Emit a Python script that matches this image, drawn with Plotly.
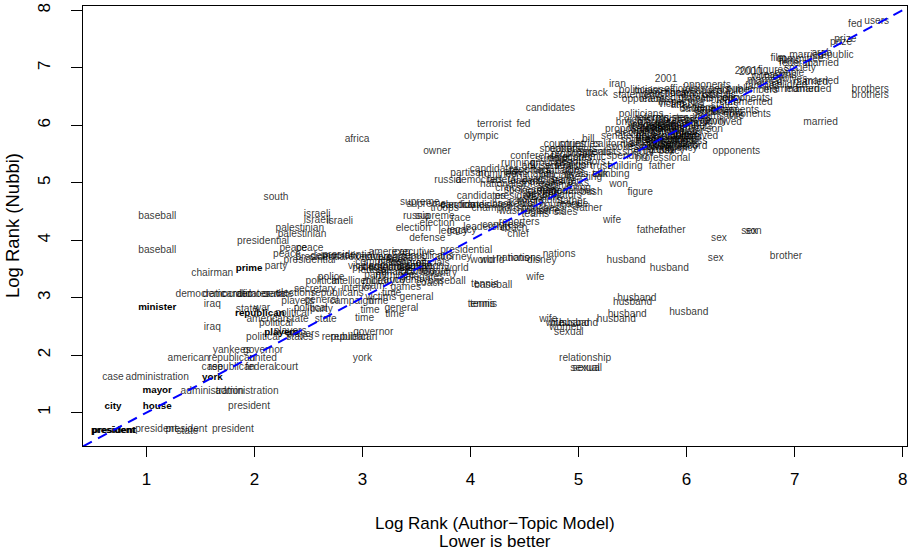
import plotly.graph_objects as go

# ---------------- data (log ranks) ----------------
# x = Log Rank (Author-Topic Model), y = Log Rank (Nubbi)

bold_words = ["president", "president", "city", "house", "mayor", "york",
              "minister", "prime", "republican", "players"]
bold_x = [0.69, 0.70, 0.69, 1.10, 1.10, 1.61, 1.10, 1.95, 2.05, 2.25]
bold_y = [0.69, 0.69, 1.10, 1.10, 1.39, 1.61, 2.82, 3.51, 2.72, 2.39]

low_words = ["president", "president", "state", "president", "president",
             "administration", "administration", "case", "administration",
             "case", "republican", "federal", "court", "american", "republican",
             "united", "yankees", "governor", "political", "states", "players",
             "players", "iraq", "political", "american", "state", "state",
             "state", "war", "political", "iraq", "players", "general",
             "political", "party", "democratic", "democratic", "candidates",
             "democratic", "senate", "elections", "secretary", "republicans",
             "chairman", "party", "peace", "presidential", "presidential",
             "democratic", "presidential", "peace", "peace", "presidential",
             "palestinian", "palestinian", "israeli", "israeli", "israeli",
             "south", "baseball", "baseball"]
low_x = [1.09, 1.37, 1.38, 1.80, 1.95,
         1.61, 1.93, 0.69, 1.10,
         1.61, 1.79, 2.06, 2.30, 1.39, 1.79,
         2.08, 1.79, 2.08, 2.08, 2.42, 2.45,
         2.33, 1.61, 2.20, 2.12, 2.40, 2.66,
         1.93, 2.07, 2.35, 1.61, 2.40, 2.62,
         2.52, 2.62, 1.50, 1.75, 1.92,
         2.06, 2.22, 2.38, 2.56, 2.77,
         1.61, 2.20, 2.30, 2.51, 2.62,
         2.75, 2.87, 2.36, 2.51, 2.08,
         2.44, 2.42, 2.58, 2.79, 2.58,
         2.20, 1.10, 1.10]
low_y = [0.70, 0.70, 0.67, 0.70, 1.10,
         1.37, 1.37, 1.61, 1.61,
         1.79, 1.79, 1.79, 1.79, 1.94, 1.94,
         1.94, 2.08, 2.08, 2.31, 2.31, 2.36,
         2.42, 2.48, 2.56, 2.63, 2.63, 2.63,
         2.80, 2.82, 2.73, 2.89, 2.94, 2.95,
         2.82, 2.80, 3.06, 3.06, 3.06,
         3.06, 3.06, 3.07, 3.15, 3.08,
         3.43, 3.55, 3.76, 3.65, 3.70,
         3.72, 3.74, 3.86, 3.86, 3.98,
         4.10, 4.21, 4.34, 4.32, 4.45,
         4.74, 4.41, 3.83]

diag_words = ["police", "political", "vice", "executive", "american",
              "executive", "committee", "leaders", "congress", "democrats",
              "leadership", "campaign", "federal", "senator", "election",
              "country", "world", "intelligence", "military", "country",
              "baseball", "interior", "time", "victims", "general", "campaign",
              "time", "general", "time", "time", "time", "governor",
              "republican", "republican", "york", "presidential", "attorney",
              "world", "world", "nations", "tennis", "baseball", "tennis",
              "tennis"]
diag_x = [2.71, 2.63, 2.95, 3.07, 3.25,
          3.47, 3.15, 3.30, 3.45, 3.22,
          3.38, 3.55, 3.10, 3.28, 3.50,
          3.72, 3.87, 2.95, 3.15, 3.45,
          3.78, 2.95, 3.27, 3.17, 3.50, 2.90,
          3.15, 3.36, 3.07, 3.02, 3.30, 3.10,
          2.84, 2.92, 3.00, 3.96, 3.84,
          4.11, 4.20, 4.39, 4.13, 4.21, 4.10,
          4.12]
diag_y = [3.36, 3.29, 3.55, 3.70, 3.79,
          3.79, 3.62, 3.64, 3.60, 3.52,
          3.50, 3.54, 3.47, 3.44, 3.45,
          3.43, 3.51, 3.29, 3.29, 3.30,
          3.29, 3.16, 3.08, 3.00, 3.00, 2.94,
          2.94, 2.82, 2.78, 2.64, 2.70, 2.39,
          2.31, 2.31, 1.94, 3.83, 3.70,
          3.64, 3.64, 3.68, 3.23, 3.21, 2.88,
          2.88]

diag_extra_words = ["governors", "republicans", "senators", "officials",
                    "administration", "politics", "candidate", "nominee",
                    "delegates", "party", "army", "coach", "team", "games"]
diag_extra_x = [3.20, 3.60, 3.40, 3.65, 3.35, 3.05, 3.60, 3.30, 3.55, 3.12,
                3.30, 3.62, 3.10, 3.40]
diag_extra_y = [3.70, 3.72, 3.68, 3.60, 3.55, 3.50, 3.46, 3.38, 3.36, 3.38,
                3.30, 3.25, 3.20, 3.18]

mid_words = ["supreme", "supreme", "troops", "election", "candidates",
             "candidates", "russia", "supreme", "race", "election", "election",
             "defense", "legacy", "legacy", "leadership", "congress",
             "reporters", "coach", "chief", "basketball", "washington",
             "countries", "russia", "democrats", "federal", "leaders",
             "officials", "party", "partisan", "nominee", "nomination",
             "officials", "candidates", "reporters", "negotiators", "running",
             "grounds", "scientists", "speakers", "countries", "proposals",
             "nationalist", "forces", "regime", "candidates", "presidency",
             "election", "senators", "voters", "polls", "spokesman",
             "security", "negotiations", "arms", "bush", "father", "father",
             "sides", "wife", "nations", "disney", "nations"]
mid_x = [3.53, 3.59, 3.76, 3.88, 3.95,
         4.15, 3.50, 3.67, 3.91, 3.47, 3.69,
         3.60, 3.84, 3.92, 4.15, 4.30,
         4.45, 4.40, 4.44, 4.41, 4.50,
         4.83, 3.79, 4.08, 4.30, 4.50,
         4.70, 4.86, 3.98, 4.25, 4.55,
         4.80, 4.22, 4.55, 4.80, 4.44,
         4.72, 4.88, 4.83, 4.87, 4.95,
         4.30, 4.60, 4.80, 4.10, 4.45,
         4.65, 4.85, 4.55, 4.75, 4.55,
         4.68, 4.90, 4.72, 5.12, 4.95, 5.10,
         4.88, 4.60, 4.82, 4.66, 4.50]
mid_y = [4.66, 4.62, 4.56, 4.60, 4.60,
         4.60, 4.41, 4.41, 4.38, 4.21, 4.29,
         4.03, 4.15, 4.17, 4.22, 4.26,
         4.30, 4.20, 4.10, 4.62, 4.50,
         4.60, 5.04, 5.04, 5.04, 5.03,
         5.01, 5.04, 5.16, 5.14, 5.14,
         5.12, 5.23, 5.22, 5.20, 5.33,
         5.33, 5.28, 5.57, 5.66, 5.50,
         4.97, 4.97, 4.95, 4.76, 4.76,
         4.74, 4.77, 4.69, 4.69, 4.86,
         4.80, 4.85, 4.90, 4.83, 4.67, 4.55,
         4.48, 3.36, 3.76, 3.65, 3.68]

mid_extra_words = ["conference", "summit", "advisers", "coalition", "aides",
                   "lawyers", "rivals", "agreement", "critics", "ruling",
                   "activists", "coaches", "league", "teams", "championship",
                   "series"]
mid_extra_x = [4.60, 4.75, 4.65, 4.95, 4.42, 4.62, 4.98, 4.70, 4.35, 5.00,
               4.50, 4.65, 4.95, 4.60, 4.30, 4.75]
mid_extra_y = [5.45, 5.40, 5.28, 5.30, 5.18, 5.05, 5.15, 4.85, 4.90, 4.90,
               4.65, 4.55, 4.62, 4.45, 4.55, 4.50]

upmid_words = ["countries", "bill", "california", "senate", "proposals",
               "opponents", "proposals", "economic", "delegates",
               "negotiators", "scientists", "special", "spending", "2000",
               "senators", "trust", "building", "professional", "father",
               "talk", "climbing", "allies", "meeting", "talks", "peace",
               "won", "figure", "wife", "father", "father", "involved"]
upmid_x = [5.01, 5.09, 5.32, 5.35, 5.45,
           4.95, 5.10, 5.05, 4.92,
           5.02, 5.20, 5.55, 5.45, 5.77,
           5.94, 5.20, 5.43, 5.78, 5.77,
           5.20, 5.30, 4.95, 5.05, 5.00, 4.85,
           5.37, 5.57, 5.31, 5.66, 5.87, 6.12]
upmid_y = [5.66, 5.76, 5.67, 5.80, 5.92,
           5.57, 5.52, 5.44, 5.42,
           5.36, 5.52, 5.52, 5.46, 5.56,
           5.67, 5.28, 5.28, 5.42, 5.28,
           5.14, 5.15, 5.22, 5.09, 4.99, 5.03,
           4.97, 4.83, 4.34, 4.17, 4.17, 5.80]

cluster_words = ["politicians", "british", "victim", "officials", "supporters",
                 "secretary", "group", "leaders", "military", "parliament",
                 "members", "opposition", "authorities", "ministers",
                 "critics", "government", "democrats", "soldiers",
                 "president", "lawmakers", "congress", "resolution",
                 "committee", "spokesman", "agency", "daughter", "victims",
                 "family", "son", "involved", "opponents", "opponents",
                 "wife"]
cluster_x = [5.58, 5.47, 5.54, 5.70, 5.85,
             6.00, 6.10, 5.62, 5.78, 5.95,
             6.05, 5.70, 5.88, 6.02,
             5.60, 5.78, 5.92, 5.55,
             5.72, 5.85, 6.00, 5.65,
             5.80, 5.50, 5.95, 6.12, 6.20,
             6.25, 6.26, 6.34, 6.30, 6.56,
             6.45]
cluster_y = [6.19, 6.05, 6.08, 6.05, 6.08,
             6.03, 6.09, 5.98, 5.96, 5.94,
             5.97, 5.89, 5.87, 5.89,
             5.83, 5.81, 5.79, 5.73,
             5.73, 5.71, 5.71, 5.63,
             5.61, 5.62, 5.59, 6.28, 6.16,
             6.06, 5.93, 6.04, 6.23, 6.19,
             6.16]

cluster_extra_words = ["negotiations", "statement", "talks", "nations",
                       "forces", "troops", "sanctions", "rebels", "allies",
                       "treaty", "diplomats", "accord", "embassy", "policy",
                       "dispute", "minister", "senators", "cabinet",
                       "elections", "reforms"]
cluster_extra_x = [5.75, 5.90, 5.68, 5.83, 6.00, 5.66, 5.82, 5.98, 5.58,
                   5.74, 5.90, 6.05, 5.70, 5.86, 5.60, 5.85, 6.05, 5.95,
                   5.52, 5.68]
cluster_extra_y = [6.00, 6.01, 5.93, 5.92, 5.84, 5.77, 5.76, 5.75, 5.68,
                   5.67, 5.64, 5.63, 5.56, 5.55, 5.95, 6.12, 6.12, 5.82,
                   5.86, 6.12]

up_words = ["candidates", "track", "iran", "politicians", "statements",
            "sanctions", "officials", "opponents", "victim", "diplomats",
            "terrorists", "2001", "opponents", "israelis", "public", "public",
            "policy", "officials", "opponents", "commented", "daughter",
            "opponents", "2000", "2001", "figures", "society", "reasons",
            "married", "married", "married", "married", "married", "married",
            "married", "federal", "married", "films", "committee", "film",
            "married", "republic", "arab", "prize", "prize", "fed", "users",
            "brothers", "brothers", "married", "opponents"]
up_x = [4.74, 5.17, 5.36, 5.58, 5.55,
        5.80, 5.95, 5.62, 5.86, 6.05,
        6.10, 5.81, 6.19, 6.25, 6.40, 6.49,
        6.40, 6.30, 6.55, 6.55, 6.25,
        6.45, 6.59, 6.55, 6.80, 7.05, 6.85,
        6.72, 6.73, 6.87, 7.07, 7.15, 7.25,
        7.18, 7.00, 7.25, 6.95, 7.05, 6.85,
        7.11, 7.38, 7.25, 7.47, 7.43, 7.56, 7.76,
        7.70, 7.70, 7.24, 6.46]
up_y = [6.29, 6.55, 6.71, 6.61, 6.52,
        6.56, 6.62, 6.44, 6.37, 6.46,
        6.52, 6.80, 6.69, 6.63, 6.58, 6.63,
        6.46, 6.51, 6.46, 6.39, 6.26,
        6.26, 6.92, 6.94, 6.96, 6.98, 6.87,
        6.78, 6.74, 6.62, 6.63, 6.74, 6.76,
        6.63, 7.07, 7.07, 7.11, 7.15, 7.17,
        7.22, 7.22, 7.25, 7.49, 7.44, 7.75, 7.80,
        6.62, 6.52, 6.05, 5.54]

up_extra_words = ["ministers", "nuclear", "weapons", "leaders", "inspectors",
                  "palestinians", "attacks", "states", "settlers", "women",
                  "couple", "families", "children", "wives", "members"]
up_extra_x = [5.70, 5.95, 6.15, 5.72, 5.95, 6.20, 6.00, 6.35, 6.10, 6.75,
              6.95, 6.70, 6.95, 7.00, 6.65]
up_extra_y = [6.58, 6.55, 6.58, 6.45, 6.40, 6.44, 6.35, 6.35, 6.30, 6.84,
              6.90, 6.68, 6.70, 6.80, 6.60]

out_words = ["africa", "owner", "olympic", "terrorist", "fed", "brother",
             "son", "sex", "sex", "sex", "husband", "husband", "husband",
             "husband", "husband", "husband", "husband", "wife", "wife",
             "husband", "husband", "women", "sexual", "relationship",
             "sexual", "sexual"]
out_x = [2.95, 3.69, 4.10, 4.22, 4.49, 6.92,
         6.62, 6.58, 6.30, 6.27, 5.44, 5.84, 5.54,
         5.50, 5.45, 5.35, 6.02, 4.72, 4.78,
         4.92, 5.00, 4.88, 4.91, 5.06,
         5.06, 5.08]
out_y = [5.76, 5.55, 5.81, 6.02, 6.02, 3.72,
         4.15, 4.15, 4.03, 3.68, 3.65, 3.51, 2.99,
         2.92, 2.70, 2.63, 2.75, 2.63, 2.56,
         2.55, 2.55, 2.48, 2.39, 1.94,
         1.77, 1.77]

x_ticks = [1, 2, 3, 4, 5, 6, 7, 8]
y_ticks = [1, 2, 3, 4, 5, 6, 7, 8]
X_RANGE = [0.413, 8.04]
Y_RANGE = [0.42, 8.074]

# ---------------- figure ----------------
FONT = "Liberation Sans, Arial, Helvetica, sans-serif"
WORD_SIZE = 10.2
WORD_COLOR = "rgba(0,0,0,0.8)"
AXIS_SIZE = 17

fig = go.Figure()

groups = [
    (low_words, low_x, low_y),
    (diag_words, diag_x, diag_y),
    (diag_extra_words, diag_extra_x, diag_extra_y),
    (mid_words, mid_x, mid_y),
    (mid_extra_words, mid_extra_x, mid_extra_y),
    (upmid_words, upmid_x, upmid_y),
    (cluster_words, cluster_x, cluster_y),
    (cluster_extra_words, cluster_extra_x, cluster_extra_y),
    (up_words, up_x, up_y),
    (up_extra_words, up_extra_x, up_extra_y),
    (out_words, out_x, out_y),
]
for w, xs, ys in groups:
    fig.add_trace(go.Scatter(
        x=xs, y=ys, text=w, mode="text", textposition="middle center",
        textfont=dict(family=FONT, size=WORD_SIZE, color=WORD_COLOR),
        hoverinfo="skip", showlegend=False))

fig.add_trace(go.Scatter(
    x=bold_x, y=bold_y, text=bold_words, mode="text",
    textposition="middle center",
    textfont=dict(family=FONT, size=9.8, color="black", weight="bold"),
    hoverinfo="skip", showlegend=False))

# y = x reference line across the plotting region
hi = min(X_RANGE[1], Y_RANGE[1])
fig.add_trace(go.Scatter(
    x=[X_RANGE[0], hi], y=[X_RANGE[0], hi], mode="lines",
    line=dict(color="#0000FF", width=2, dash="10px,7px"),
    hoverinfo="skip", showlegend=False))

axis_common = dict(
    showgrid=False, zeroline=False, showline=True, linecolor="black",
    linewidth=1, mirror=True, ticks="outside", tickcolor="black",
    tickwidth=1, tickfont=dict(family=FONT, size=AXIS_SIZE, color="black"),
)

fig.update_layout(
    width=911, height=550,
    margin=dict(l=83, r=3, t=3, b=104),
    paper_bgcolor="white", plot_bgcolor="white",
    xaxis=dict(range=X_RANGE, tickvals=x_ticks, ticklen=10,
               ticklabelstandoff=8, **axis_common),
    yaxis=dict(range=Y_RANGE, tickvals=y_ticks, ticklen=11, tickangle=-90,
               ticklabelstandoff=14, ticklabeloverflow="allow",
               **axis_common),
    annotations=[
        dict(text="Log Rank (Author\u2212Topic Model)", xref="paper",
             yref="paper", x=0.5, y=0, yshift=-77, showarrow=False,
             xanchor="center", yanchor="middle",
             font=dict(family=FONT, size=AXIS_SIZE, color="black")),
        dict(text="Lower is better", xref="paper", yref="paper", x=0.5, y=0,
             yshift=-95, showarrow=False, xanchor="center", yanchor="middle",
             font=dict(family=FONT, size=AXIS_SIZE, color="black")),
        dict(text="Log Rank (Nubbi)", xref="paper", yref="paper", x=0, y=0.5,
             xshift=-71, showarrow=False, textangle=-90, xanchor="center",
             yanchor="middle",
             font=dict(family=FONT, size=18.5, color="black")),
    ],
)

fig.write_html("out.html")
